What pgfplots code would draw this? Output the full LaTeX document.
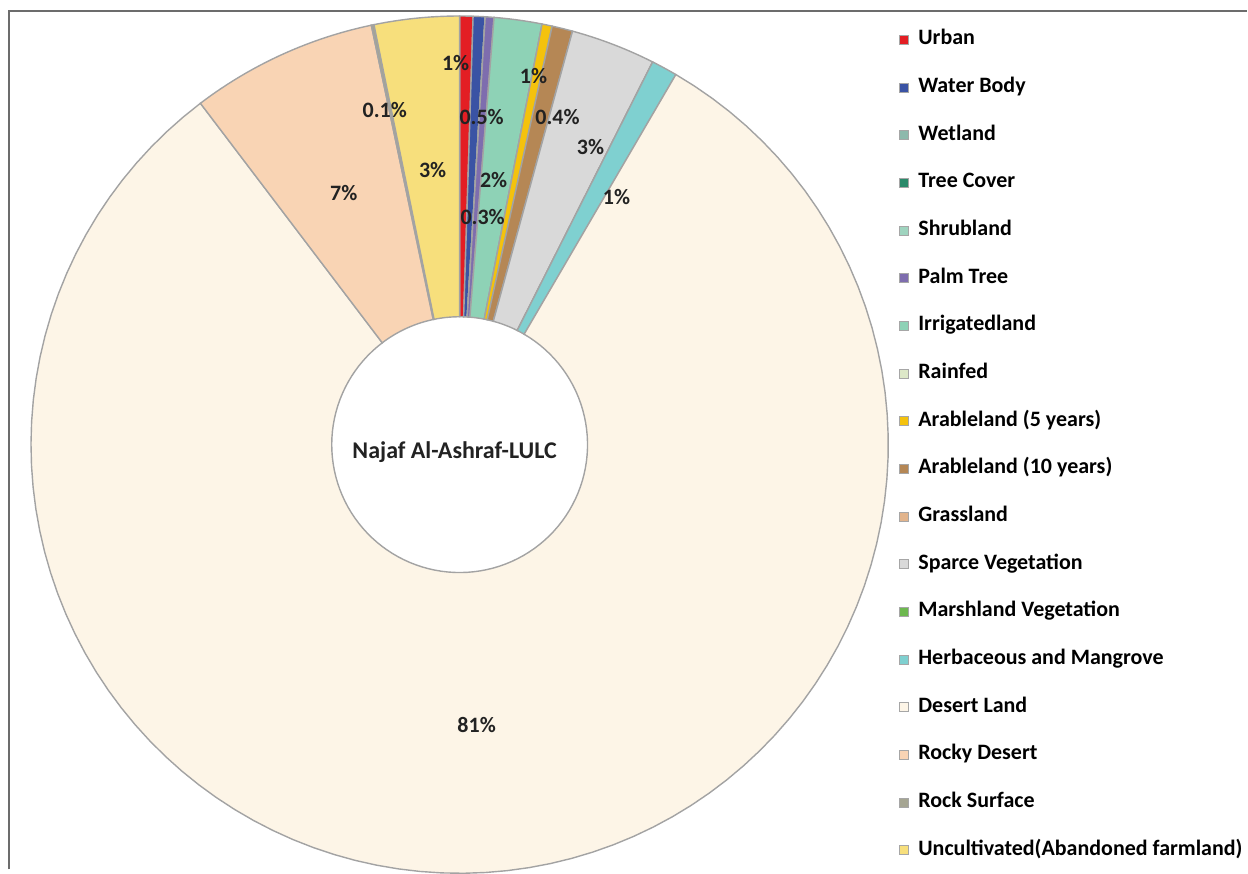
\documentclass[border=0pt]{standalone}
\usepackage{fontspec}
\setmainfont{Carlito}
\usepackage{pgfplots}
\usepackage{pgfplotstable}
\pgfplotsset{compat=1.18}

\definecolor{col0}{HTML}{E31E24}
\definecolor{col1}{HTML}{3A53A4}
\definecolor{col2}{HTML}{8DB9AC}
\definecolor{col3}{HTML}{2A8A6A}
\definecolor{col4}{HTML}{9FD4BF}
\definecolor{col5}{HTML}{7E6DAE}
\definecolor{col6}{HTML}{8ED2B6}
\definecolor{col7}{HTML}{DDE8C8}
\definecolor{col8}{HTML}{F4C20D}
\definecolor{col9}{HTML}{B58755}
\definecolor{col10}{HTML}{E2B48C}
\definecolor{col11}{HTML}{D9D9D9}
\definecolor{col12}{HTML}{6DB84F}
\definecolor{col13}{HTML}{7FD0D0}
\definecolor{col14}{HTML}{FDF5E7}
\definecolor{col15}{HTML}{F9D4B4}
\definecolor{col16}{HTML}{A5A592}
\definecolor{col17}{HTML}{F7DF7C}
\definecolor{edge}{HTML}{A3A3A3}
\definecolor{labtxt}{HTML}{222222}

\tikzset{labs/.style={font=\bfseries\fontsize{11}{13}\selectfont, text=labtxt, inner sep=0pt}}

\pgfplotstableread[col sep=comma]{
name,value
Urban,0.5
Water Body,0.45
Wetland,0
Tree Cover,0
Shrubland,0
Palm Tree,0.33
Irrigatedland,1.8
Rainfed,0
Arableland (5 years),0.38
Arableland (10 years),0.78
Grassland,0
Sparce Vegetation,3.19
Marshland Vegetation,0
Herbaceous and Mangrove,0.98
Desert Land,81.2
Rocky Desert,7.03
Rock Surface,0.1
Uncultivated(Abandoned farmland),3.2
}\lulc

\gdef\total{0}
\foreach \i in {0,...,17}{%
  \pgfplotstablegetelem{\i}{value}\of\lulc
  \pgfmathsetmacro\tmp{\total+\pgfplotsretval}%
  \xdef\total{\tmp}}
\gdef\acc{0}
\foreach \i in {0,...,17}{%
  \pgfplotstablegetelem{\i}{value}\of\lulc
  \pgfmathsetmacro\st{\acc/\total*360}%
  \pgfmathsetmacro\newacc{\acc+\pgfplotsretval}%
  \pgfmathsetmacro\en{\newacc/\total*360}%
  \expandafter\xdef\csname st\i\endcsname{\st}%
  \expandafter\xdef\csname en\i\endcsname{\en}%
  \xdef\acc{\newacc}%
  \pgfplotstablegetelem{\i}{name}\of\lulc
  \expandafter\xdef\csname nm\i\endcsname{\pgfplotsretval}}

\begin{document}
\begin{tikzpicture}
\begin{axis}[
  width=624pt, height=435pt, scale only axis,
  xmin=0, xmax=1248, ymin=0, ymax=870, y dir=reverse,
  hide axis, clip=false,
  declare function={
    rr(\t)=128+(\t<1.15)*301;
    aa(\t,\a,\b)=ifthenelse(\t<1.15, \a+(\b-\a)*min(\t,1), \b-(\b-\a)*min(max(\t-1.2,0),1));
  },
  legend cell align=left,
  legend image code/.code={\draw[#1, draw=gray!70, line width=0.4pt] (0pt,-2.25pt) rectangle (4.5pt,2.25pt); \path (9pt,0pt);},
  legend style={at={(axis cs:900,30)}, anchor=north west, draw=none, fill=none,
    inner sep=0pt, outer sep=0pt, row sep=13.95pt,
    font=\bfseries\fontsize{11}{13}\selectfont,
    nodes={inner sep=0pt, text height=7.5pt, text depth=2.4pt}},
]
\pgfplotsinvokeforeach{0,...,17}{%
  \edef\temp{\noexpand\addplot[fill=col#1, draw=edge, line width=0.7pt, domain=0:2.2, samples=221, variable=\noexpand\t]
    ({460+rr(\noexpand\t)*sin(aa(\noexpand\t,\csname st#1\endcsname,\csname en#1\endcsname))},
     {445-rr(\noexpand\t)*cos(aa(\noexpand\t,\csname st#1\endcsname,\csname en#1\endcsname))}) -- cycle;}%
  \temp
  \addlegendentry{\csname nm#1\endcsname}
}
\path (axis cs:0,0) (axis cs:1248,870);
\draw[gray!85!black, line width=1pt] (axis cs:9,870) -- (axis cs:9,11) -- (axis cs:1248,11);
\node[labs] at (axis cs:456,63) {1\%};
\node[labs] at (axis cs:482,117) {0.5\%};
\node[labs] at (axis cs:494,180) {2\%};
\node[labs] at (axis cs:483,217) {0.3\%};
\node[labs] at (axis cs:534,76) {1\%};
\node[labs] at (axis cs:558,117) {0.4\%};
\node[labs] at (axis cs:591,147) {3\%};
\node[labs] at (axis cs:617,197) {1\%};
\node[labs] at (axis cs:385,110) {0.1\%};
\node[labs] at (axis cs:433,170) {3\%};
\node[labs] at (axis cs:344,193) {7\%};
\node[labs] at (axis cs:477,726) {81\%};
\node[font=\bfseries\fontsize{12}{14}\selectfont, text=labtxt] at (axis cs:455,452) {Najaf Al-Ashraf-LULC};
\end{axis}
\end{tikzpicture}
\end{document}
